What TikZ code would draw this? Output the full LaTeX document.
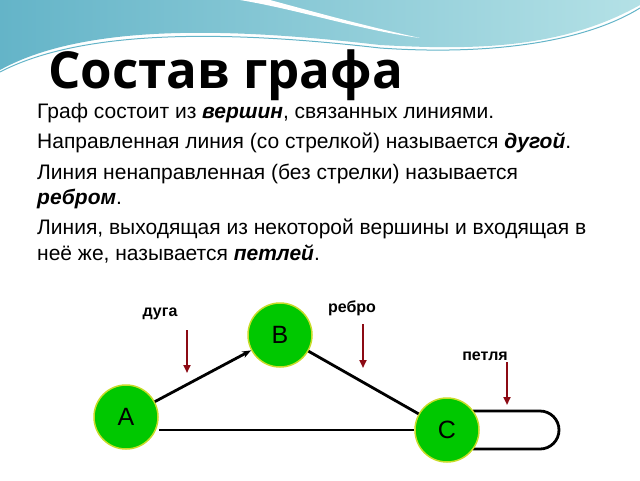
\documentclass[tikz,border=0pt]{standalone}
\usepackage{fontspec}
\setmainfont{Liberation Sans}
\newfontfamily\titlefont{Open Sans}
\usetikzlibrary{arrows.meta}
\definecolor{vgreen}{RGB}{0,200,0}
\definecolor{vrim}{RGB}{200,220,40}
\definecolor{darr}{RGB}{140,10,20}
\definecolor{wave1}{RGB}{100,180,200}
\definecolor{wave2}{RGB}{180,225,230}
\tikzset{
  vert/.style={circle,draw=vrim,fill=vgreen,line width=1.5pt,minimum size=64pt,inner sep=0pt,font=\fontsize{25}{25}\selectfont},
  edge/.style={line width=2.8pt,black},
  pointer/.style={darr,line width=2.4pt,-{Triangle[length=8pt,width=7pt]}},
  lbl/.style={font=\fontsize{16}{16}\selectfont\bfseries},
  body/.style={anchor=base west,inner sep=0pt,font=\fontsize{21}{21}\selectfont}
}
\begin{document}
\begin{tikzpicture}[x=1pt,y=-1pt]
\useasboundingbox (0,0) rectangle (640,480);
% top wave
\shade[left color=wave1,right color=wave2] (0,0) -- (640,0) -- (640,5)
  .. controls (560,50) and (470,50) .. (380,45)
  .. controls (250,30) and (90,20) .. (0,70) -- cycle;
\fill[white] (240,0) .. controls (300,10) and (360,30) .. (420,38)
  .. controls (360,25) and (300,8) .. (270,0) -- cycle;
\draw[wave1,line width=1pt] (0,72) .. controls (90,25) and (250,33) .. (380,48)
  .. controls (480,55) and (580,45) .. (640,8);
% title and text
\node[anchor=base west,inner sep=0pt,font=\titlefont\bfseries\fontsize{51}{51}\selectfont] (title) at (48,88) {Состав графа};
\node[body] (t1) at (37,118) {Граф состоит из \textbf{\textit{вершин}}, связанных линиями.};
\node[body] (t2) at (37,148) {Направленная линия (со стрелкой) называется \textbf{\textit{дугой}}.};
\node[body] (t3) at (37,179) {Линия ненаправленная (без стрелки) называется};
\node[body] (t4) at (37,204) {\textbf{\textit{ребром}}.};
\node[body] (t5) at (37,234) {Линия, выходящая из некоторой вершины и входящая в};
\node[body] (t6) at (37,260) {неё же, называется \textbf{\textit{петлей}}.};
% graph
\coordinate (lt) at (540,411);
\coordinate (lb) at (540,449);
\draw[edge] (473,411) -- (lt) arc (-90:90:19) -- (473,449);
\node[vert] (A) at (126,417) {A};
\node[vert] (B) at (280,335) {B};
\node[vert] (C) at (447,430) {C};
\draw[edge,-{Stealth[length=9pt]}] (A) -- (B);
\draw[edge] (B) -- (C);
\draw[edge] (A.east |- C.west) -- (C.west);
% labels
\node[lbl] (arc) at (160,314) {дуга};
\node[lbl] (rib) at (352,308) {ребро};
\node[lbl] (loop) at (485,356) {петля};
\coordinate (p1) at (187,330); \coordinate (q1) at (187,373);
\coordinate (p2) at (363,324); \coordinate (q2) at (363,368);
\coordinate (p3) at (507,362); \coordinate (q3) at (507,405);
\draw[pointer] (p1) -- (q1);
\draw[pointer] (p2) -- (q2);
\draw[pointer] (p3) -- (q3);
\end{tikzpicture}
\end{document}
